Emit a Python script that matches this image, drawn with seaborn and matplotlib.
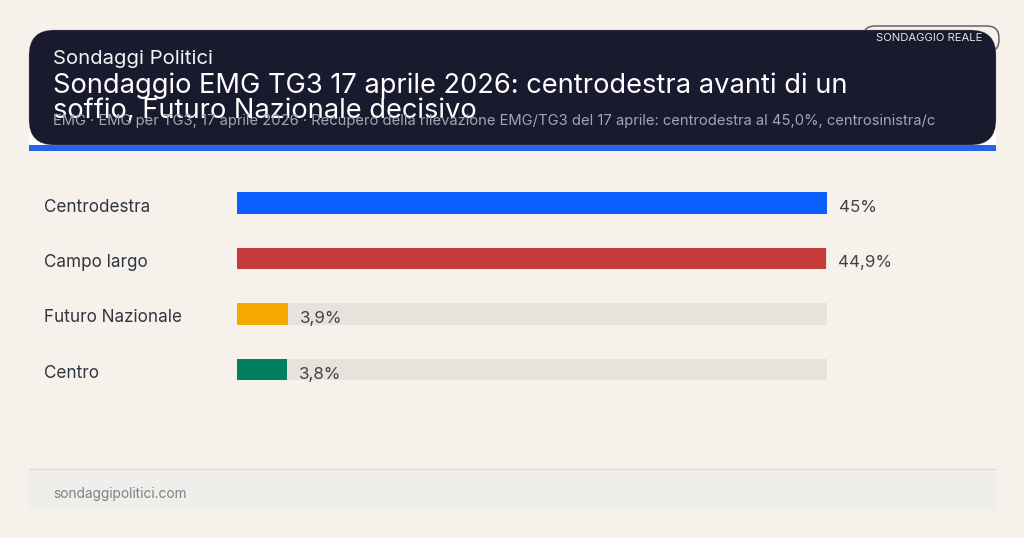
import matplotlib
matplotlib.use("Agg")
import matplotlib.pyplot as plt
from matplotlib.patches import FancyBboxPatch, Rectangle
import pandas as pd
import seaborn as sns

sns.set_theme(style="white")
plt.rcParams["font.family"] = ["Inter", "DejaVu Sans"]

parties = ["Centrodestra", "Campo largo", "Futuro Nazionale", "Centro"]
values = [45.0, 44.9, 3.9, 3.8]
value_labels = ["45%", "44,9%", "3,9%", "3,8%"]
colors = ["#0b5fff", "#c63a3a", "#f5a800", "#008060"]
track_max = [45.0, 45.0, 45.0, 45.0]

kicker = "Sondaggi Politici"
title_lines = ["Sondaggio EMG TG3 17 aprile 2026: centrodestra avanti di un",
               "soffio, Futuro Nazionale decisivo"]
subtitle = ("EMG · EMG per TG3, 17 aprile 2026 · Recupero della rilevazione "
            "EMG/TG3 del 17 aprile: centrodestra al 45,0%, centrosinistra/c")
badge = "SONDAGGIO REALE"
footer = "sondaggipolitici.com"

W, H = 1024, 538
BG = "#f6f1eb"
NAVY = "#1a1a2e"
df = pd.DataFrame({"party": parties, "value": values, "track": track_max})

fig = plt.figure(figsize=(W / 100, H / 100), dpi=100, facecolor=BG)

# page furniture, in pixels from the top left
bg = fig.add_axes([0, 0, 1, 1], zorder=0)
bg.set_xlim(0, W)
bg.set_ylim(H, 0)
bg.axis("off")

# white card shows only at the bottom corners of the header
bg.add_patch(Rectangle((29, 70), 967, 75, fc="white", ec="none"))
bg.add_patch(Rectangle((29, 145), 967, 6, fc="#2563eb", ec="none"))

# badge sits behind the header, only its top and right edge stick out
bg.add_patch(FancyBboxPatch((863 + 12, 26 + 12), 136 - 24, 26 - 24,
                            boxstyle="round,pad=12,rounding_size=12",
                            fc="#f4f0ea", ec="#55555f", lw=1, zorder=2))
bg.add_patch(FancyBboxPatch((29 + 25, 30 + 25), 967 - 50, 115 - 50,
                            boxstyle="round,pad=25,rounding_size=25",
                            fc=NAVY, ec="#8d8d95", lw=0.2, zorder=2.5))

bg.text(53, 58.5, kicker, color="#f4f4f6", fontsize=14.6, va="center", ha="left", zorder=3)
bg.text(53, 86, title_lines[0], color="white", fontsize=19.65, va="center", ha="left", zorder=3)
bg.text(53, 111, title_lines[1], color="white", fontsize=19.65, va="center", ha="left", zorder=3)
bg.text(53, 121, subtitle, color="#a3a5b3", fontsize=10.63, va="center", ha="left", zorder=4)
bg.text(876, 38, badge, color="#e4e4e8", fontsize=8.1, va="center", ha="left", zorder=3)

bg.add_patch(Rectangle((29, 468), 967, 42, fc="#f0eeea", ec="none"))
bg.plot([29, 996], [468.5, 468.5], color="#e2d9d0", lw=1)
bg.text(53, 494, footer, color="#7d8187", fontsize=9.85, va="center", ha="left")

# bars: one category every 55.5 px, scale 0-45 over 590 px
ax = fig.add_axes([237 / W, 1 - 397.25 / H, 590 / W, 222 / H], zorder=1)
ax.patch.set_alpha(0)
sns.barplot(data=df, x="track", y="party", color="#e7e2db", width=0.39,
            saturation=1, linewidth=0, ax=ax)
sns.barplot(data=df, x="value", y="party", hue="party", palette=colors,
            width=0.39, saturation=1, legend=False, linewidth=0, ax=ax)
ax.set_xlim(0, 45)
ax.set_xlabel("")
ax.set_ylabel("")
ax.set_xticks([])
sns.despine(ax=ax, left=True, bottom=True)
ax.tick_params(axis="y", length=0, pad=0)
ax.set_yticks(range(len(parties)))
ax.set_yticklabels([])

for i, (party, val, lab) in enumerate(zip(parties, values, value_labels)):
    ax.annotate(party, xy=(0, i), xytext=(44 - 237, -4), textcoords="offset pixels",
                ha="left", va="center", fontsize=12.3, color="#2f3540",
                annotation_clip=False)
    ax.annotate(lab, xy=(val, i), xytext=(12, -4.5), textcoords="offset pixels",
                ha="left", va="center", fontsize=12.2, color="#3c414c",
                annotation_clip=False)

fig.savefig("out.png", dpi=100, facecolor=BG)
